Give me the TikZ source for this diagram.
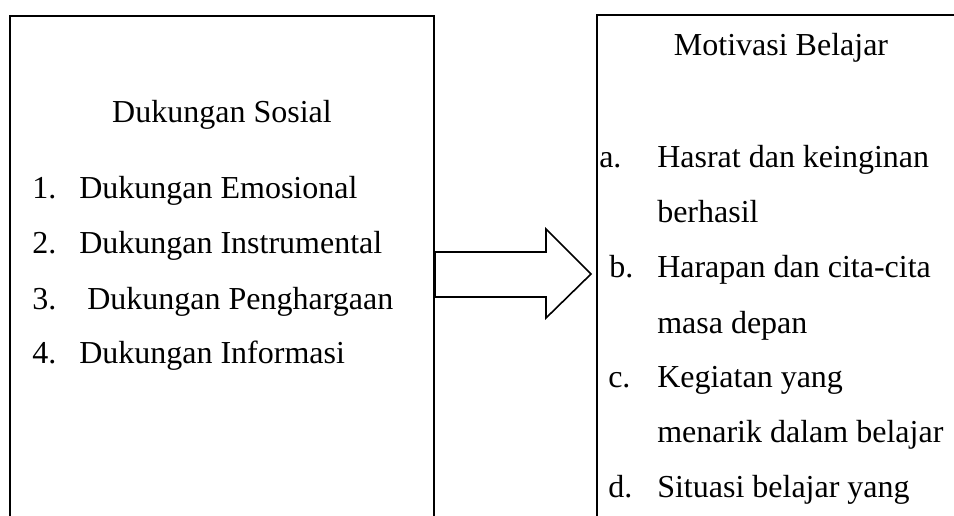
\documentclass[tikz,border=0pt]{standalone}
\usepackage{fontspec}
\setmainfont{Liberation Serif}
\usepackage{tikz}

\begin{document}
\begin{tikzpicture}[x=0.75pt,y=-0.75pt,
    teks/.style={inner sep=0pt, anchor=base west, font=\fontsize{24}{28}\selectfont},
    judul/.style={teks, anchor=base}]
        \useasboundingbox (0,0) rectangle (954,515);
        \clip (0,0) rectangle (954,515);
        % kotak kiri dan kanan (terpotong di tepi)
        \draw[line width=1.5pt] (10,540) -- (10,16) -- (434,16) -- (434,540);
        \draw[line width=1.5pt] (597,540) -- (597,15) -- (980,15);
        % panah blok
        \draw[line width=1.2pt, fill=white] (435,252) -- (546,252) -- (546,229) -- (591,274)
            -- (546,318) -- (546,297) -- (435,297) -- cycle;
        % dukungan sosial
        \node[judul] (sosial) at (222,122) {Dukungan Sosial};
        \foreach \i/\t/\x/\y in {1/Emosional/79/198, 2/Instrumental/79/253,
                                3/Penghargaan/87/309, 4/Informasi/79/363} {
            \node[teks] (no\i) at (32,\y) {\i.};
            \node[teks] (ds\i) at (\x,\y) {Dukungan \t};
        }
        % motivasi belajar
        \node[judul] (motivasi) at (781,55) {Motivasi Belajar};
        \foreach \l/\x/\y/\t in {a/599/167/{Hasrat dan keinginan}, b/609/277/{Harapan dan cita-cita},
                                c/608/387/{Kegiatan yang}, d/608/497/{Situasi belajar yang}} {
            \node[teks] (hr\l) at (\x,\y) {\l.};
            \node[teks] (mb\l) at (657,\y) {\t};
        }
        \foreach \k/\y/\t in {1/222/berhasil, 2/333/masa depan, 3/442/menarik dalam belajar} {
            \node[teks] (lanjut\k) at (657,\y) {\t};
        }
    \end{tikzpicture}
\end{document}
